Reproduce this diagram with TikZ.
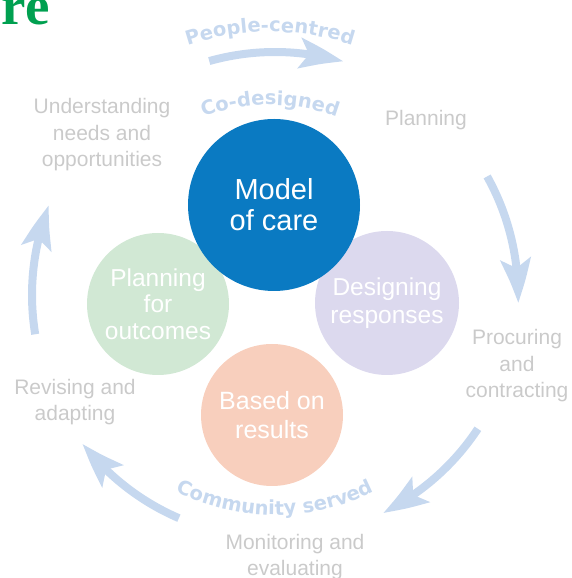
\documentclass[tikz,border=0pt]{standalone}
\usepackage{fontspec}
\setmainfont{Liberation Sans}
\newfontfamily\headfont{Liberation Serif}
\newfontfamily\arcfont{DejaVu Sans}
\usepackage{tikz}
\usetikzlibrary{arrows.meta,bending,decorations,decorations.text}
\definecolor{careblue}{RGB}{10,122,194}
\definecolor{outcomegreen}{RGB}{209,232,212}
\definecolor{responsepurple}{RGB}{220,217,238}
\definecolor{resultpeach}{RGB}{248,207,189}
\definecolor{arrowblue}{RGB}{198,216,239}
\definecolor{labelgray}{RGB}{202,202,202}
\definecolor{headgreen}{RGB}{0,160,80}

\tikzset{
    disc/.style={circle, minimum size=#1, inner sep=0pt, text=white, align=center},
    phase/.style={text=labelgray, align=center, font=\fontsize{21}{26.5}\selectfont},
    cyclearrow/.style={draw=arrowblue, line width=8pt, -{Stealth[length=44pt,width=30pt,inset=9pt,bend]}},
    arctext/.style={decorate, decoration={text along path, text align=center, text color=arrowblue,
        text={|\arcfont\bfseries\fontsize{19.5}{19.5}\selectfont|#1}}}
}

\begin{document}
\begin{tikzpicture}[x=1pt,y=1pt]
        \useasboundingbox (0,0) rectangle (571,578);
        \coordinate (hub) at (275,283);
        \coordinate (tophub) at (270,283);
        % cycle arrows
        \foreach \a/\b in {105.7/73.7, 29.2/-1.9, -33.4/-63.6, -113.3/-142.3, 189.3/158.4}{
            \draw[cyclearrow] (hub) ++(\a:243pt) arc[start angle=\a, end angle=\b, radius=243pt];
        }
        % curved captions
        \path[arctext=People-centred] (tophub) ++(135:263pt) arc[start angle=135, end angle=45, radius=263pt];
        \path[arctext=Co-designed] (tophub) ++(135:190pt) arc[start angle=135, end angle=45, radius=190pt];
        \path[arctext=Community served] (hub) ++(-135:220pt) arc[start angle=-135, end angle=-45, radius=220pt];
        % stages round the cycle
        \node[phase] (understanding) at (102,443) {Understanding\\needs and\\opportunities};
        \node[phase] (planning) at (426,458) {Planning};
        \node[phase] (procuring) at (517,212) {Procuring\\and\\contracting};
        \node[phase] (monitoring) at (295,21) {Monitoring and\\evaluating};
        \node[phase] (revising) at (75,176) {Revising and\\adapting};
        % circles
        \node[disc=142pt, fill=outcomegreen, font=\fontsize{24.5}{26.5}\selectfont] (outcomes) at (158,274) {Planning\\for\\outcomes};
        \node[disc=144pt, fill=responsepurple, font=\fontsize{24.5}{28}\selectfont] (responses) at (387,275) {Designing\\responses};
        \node[disc=142pt, fill=resultpeach, font=\fontsize{25}{29}\selectfont] (results) at (272,163) {Based on\\results};
        \node[disc=172pt, fill=careblue, font=\fontsize{29}{31}\selectfont] (model) at (274,373) {Model\\of care};
        \node[anchor=base east, text=headgreen, font=\headfont\bfseries\fontsize{55}{55}\selectfont, inner sep=0pt] (heading) at (50,553) {re};
\end{tikzpicture}
\end{document}
